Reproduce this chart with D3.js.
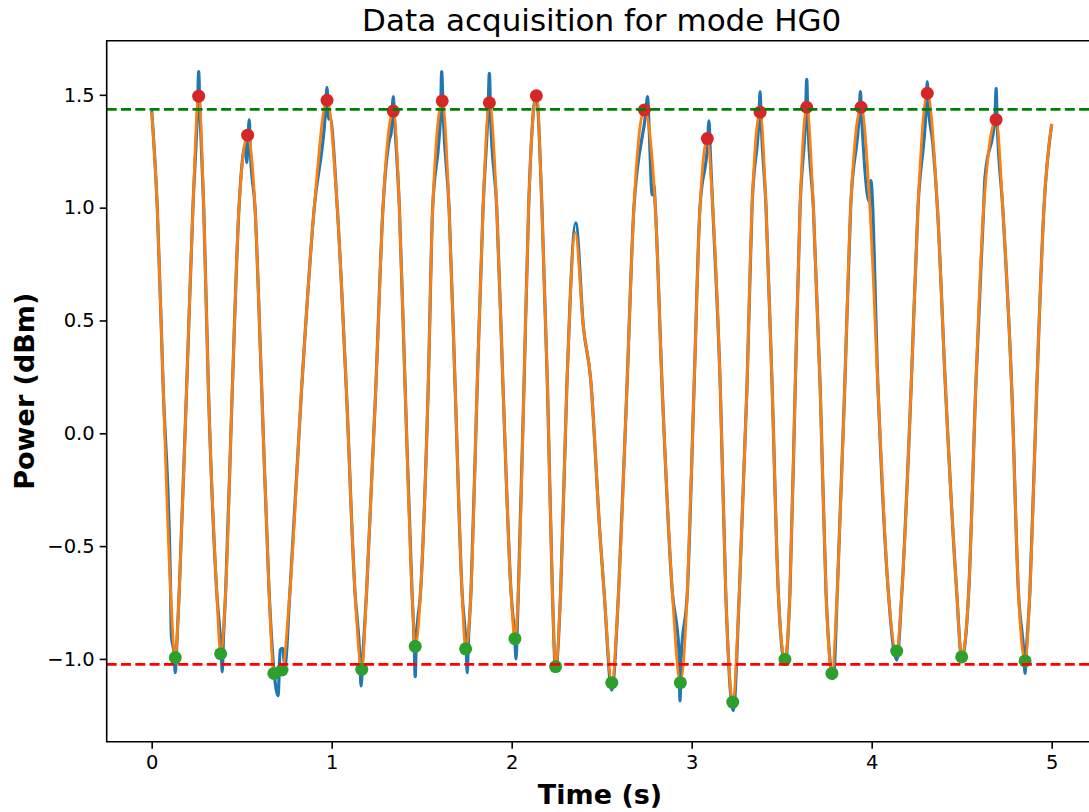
<!DOCTYPE html>
<html><head><meta charset="UTF-8">
<title>Data acquisition for mode HG0</title>
<script src="https://cdn.jsdelivr.net/npm/d3@7"></script>
<style>
  body { margin: 0; background: #fff; }
  svg { display: block; font-family: "DejaVu Sans", sans-serif; }
</style>
</head>
<body>
<div id="chart"></div>
<script>
// values
const timeTicks = [0, 1, 2, 3, 4, 5];
const powerTicks = [-1.0, -0.5, 0.0, 0.5, 1.0, 1.5];

// raw signal (blue), [time, power]
const raw = [
  [0, 1.43], [0.031, 1.0], [0.064, 0.2], [0.105, -0.7], [0.109, -0.894],
  [0.125, -0.98], [0.131, -1.061], [0.137, -0.98], [0.153, -0.7], [0.194, 0.2],
  [0.229, 1.0], [0.255, 1.45], [0.261, 1.603], [0.267, 1.45], [0.289, 1.0],
  [0.315, 0.2], [0.361, -0.7], [0.386, -0.96], [0.392, -1.057], [0.398, -0.92],
  [0.411, -0.7], [0.448, 0.2], [0.485, 1.0], [0.522, 1.28], [0.528, 1.20],
  [0.535, 1.30], [0.542, 1.389], [0.548, 1.25], [0.574, 1.0], [0.611, 0.2],
  [0.652, -0.7], [0.679, -1.05], [0.702, -1.163], [0.714, -0.96], [0.727, -0.953],
  [0.74, -1.03], [0.768, -0.7], [0.833, 0.2], [0.903, 1.0], [0.965, 1.42],
  [0.974, 1.533], [0.983, 1.392], [0.99, 1.40], [1.031, 1.0], [1.081, 0.2],
  [1.129, -0.7], [1.157, -1.0], [1.163, -1.120], [1.172, -1.0], [1.194, -0.7],
  [1.245, 0.2], [1.285, 1.0], [1.32, 1.30], [1.33, 1.33], [1.342, 1.492],
  [1.35, 1.38], [1.376, 1.0], [1.408, 0.2], [1.446, -0.7], [1.458, -0.92],
  [1.464, -1.079], [1.47, -0.92], [1.494, -0.7], [1.536, 0.2], [1.561, 1.0],
  [1.596, 1.30], [1.605, 1.42], [1.611, 1.603], [1.62, 1.40], [1.652, 1.0],
  [1.686, 0.2], [1.724, -0.7], [1.747, -0.95], [1.753, -1.061], [1.759, -0.93],
  [1.774, -0.7], [1.808, 0.2], [1.841, 1.0], [1.869, 1.44], [1.876, 1.595],
  [1.883, 1.40], [1.917, 1.0], [1.952, 0.2], [1.996, -0.7], [2.018, -0.92],
  [2.024, -1.0], [2.03, -0.88], [2.037, -0.7], [2.068, 0.2], [2.094, 1.0],
  [2.137, 1.50], [2.168, 1.0], [2.199, 0.2], [2.226, -0.7], [2.244, -1.05],
  [2.272, -0.7], [2.306, 0.2], [2.356, 0.933], [2.398, 0.474], [2.439, 0.237],
  [2.49, -0.443], [2.513, -0.7], [2.556, -1.138], [2.594, -0.7], [2.64, 0.2],
  [2.679, 1.0], [2.745, 1.42], [2.755, 1.492], [2.762, 1.38], [2.781, 1.056],
  [2.79, 1.10], [2.798, 1.0], [2.836, 0.2], [2.892, -0.7], [2.929, -0.96],
  [2.935, -1.186], [2.941, -1.0], [2.976, -0.7], [3.013, 0.2], [3.046, 1.0],
  [3.088, 1.28], [3.096, 1.385], [3.103, 1.25], [3.117, 1.0], [3.159, 0.2],
  [3.189, -0.7], [3.231, -1.229], [3.265, -0.7], [3.307, 0.2], [3.335, 1.0],
  [3.374, 1.40], [3.380, 1.514], [3.386, 1.38], [3.413, 1.0], [3.447, 0.2],
  [3.481, -0.7], [3.518, -1.02], [3.546, -0.7], [3.575, 0.2], [3.602, 1.0],
  [3.633, 1.42], [3.639, 1.569], [3.645, 1.40], [3.676, 1.0], [3.714, 0.2],
  [3.746, -0.7], [3.787, -1.086], [3.809, -0.7], [3.85, 0.2], [3.883, 1.0],
  [3.931, 1.42], [3.937, 1.514], [3.943, 1.42], [3.987, 1.026], [3.995, 1.12],
  [4.035, 0.2], [4.092, -0.7], [4.139, -1.005], [4.168, -0.7], [4.219, 0.2],
  [4.257, 1.0], [4.303, 1.45], [4.309, 1.558], [4.315, 1.45], [4.339, 1.288],
  [4.365, 1.0], [4.41, 0.2], [4.472, -0.7], [4.5, -1.0], [4.539, -0.7],
  [4.578, 0.2], [4.622, 1.0], [4.629, 1.13], [4.685, 1.40], [4.691, 1.529],
  [4.697, 1.38], [4.728, 1.0], [4.778, 0.2], [4.815, -0.7], [4.846, -0.98],
  [4.852, -1.064], [4.858, -0.98], [4.879, -0.7], [4.917, 0.2], [4.957, 1.0],
  [5.0, 1.37]
];

// filtered signal (orange)
const smooth = [
  [0, 1.425], [0.031, 1.0], [0.064, 0.2], [0.105, -0.7], [0.131, -0.994],
  [0.153, -0.7], [0.194, 0.2], [0.229, 1.0], [0.261, 1.494], [0.289, 1.0],
  [0.315, 0.2], [0.361, -0.7], [0.383, -0.977], [0.411, -0.7], [0.448, 0.2],
  [0.485, 1.0], [0.533, 1.321], [0.574, 1.0], [0.611, 0.2], [0.652, -0.7],
  [0.679, -1.064], [0.70, -1.04], [0.724, -1.049], [0.768, -0.7], [0.833, 0.2],
  [0.903, 1.0], [0.974, 1.476], [1.031, 1.0], [1.081, 0.2], [1.129, -0.7],
  [1.167, -1.046], [1.194, -0.7], [1.245, 0.2], [1.285, 1.0], [1.342, 1.428],
  [1.376, 1.0], [1.408, 0.2], [1.446, -0.7], [1.464, -0.944], [1.494, -0.7],
  [1.536, 0.2], [1.561, 1.0], [1.614, 1.473], [1.652, 1.0], [1.686, 0.2],
  [1.724, -0.7], [1.744, -0.955], [1.774, -0.7], [1.808, 0.2], [1.841, 1.0],
  [1.876, 1.465], [1.917, 1.0], [1.952, 0.2], [1.996, -0.7], [2.018, -0.910],
  [2.037, -0.7], [2.068, 0.2], [2.094, 1.0], [2.137, 1.496], [2.168, 1.0],
  [2.199, 0.2], [2.226, -0.7], [2.244, -1.034], [2.272, -0.7], [2.306, 0.2],
  [2.353, 0.889], [2.398, 0.474], [2.439, 0.237], [2.49, -0.443], [2.513, -0.7],
  [2.556, -1.105], [2.594, -0.7], [2.64, 0.2], [2.679, 1.0], [2.737, 1.433],
  [2.798, 1.0], [2.836, 0.2], [2.892, -0.7], [2.937, -1.105], [2.976, -0.7],
  [3.013, 0.2], [3.046, 1.0], [3.087, 1.306], [3.117, 1.0], [3.159, 0.2],
  [3.189, -0.7], [3.228, -1.191], [3.265, -0.7], [3.307, 0.2], [3.335, 1.0],
  [3.380, 1.423], [3.413, 1.0], [3.447, 0.2], [3.481, -0.7], [3.518, -1.002],
  [3.546, -0.7], [3.575, 0.2], [3.602, 1.0], [3.639, 1.445], [3.676, 1.0],
  [3.714, 0.2], [3.746, -0.7], [3.779, -1.064], [3.809, -0.7], [3.85, 0.2],
  [3.883, 1.0], [3.941, 1.445], [3.99, 1.0], [4.035, 0.2], [4.092, -0.7],
  [4.139, -0.965], [4.168, -0.7], [4.219, 0.2], [4.257, 1.0], [4.309, 1.507],
  [4.365, 1.0], [4.41, 0.2], [4.472, -0.7], [4.5, -0.991], [4.539, -0.7],
  [4.578, 0.2], [4.622, 1.0], [4.691, 1.390], [4.728, 1.0], [4.778, 0.2],
  [4.815, -0.7], [4.852, -1.009], [4.879, -0.7], [4.917, 0.2], [4.957, 1.0],
  [5.0, 1.372]
];

// detected maxima (red) and minima (green)
const peaks = [
  [0.261, 1.494], [0.533, 1.321], [0.974, 1.476], [1.342, 1.428], [1.614, 1.473],
  [1.876, 1.465], [2.137, 1.496], [2.737, 1.433], [3.087, 1.306], [3.380, 1.423],
  [3.639, 1.445], [3.941, 1.445], [4.309, 1.507], [4.691, 1.390]
];
const troughs = [
  [0.131, -0.994], [0.383, -0.977], [0.679, -1.064], [0.724, -1.049], [1.167, -1.046],
  [1.464, -0.944], [1.744, -0.955], [2.018, -0.910], [2.244, -1.034], [2.556, -1.105],
  [2.937, -1.105], [3.228, -1.191], [3.518, -1.002], [3.779, -1.064], [4.139, -0.965],
  [4.5, -0.991], [4.852, -1.009]
];

const W = 1089, H = 812;
const mLeft = 106.7, mRight = 1096.7, mTop = 40.7, mBottom = 741.7;

const svg = d3.select("#chart").append("svg")
  .attr("width", W).attr("height", H);

const x = d3.scaleLinear().domain([-0.25, 5.25]).range([mLeft, mRight]);
const y = d3.scaleLinear().domain([-1.3668, 1.7399]).range([mBottom, mTop]);

svg.append("clipPath").attr("id", "clip")
  .append("rect").attr("x", mLeft).attr("y", mTop)
  .attr("width", mRight - mLeft).attr("height", mBottom - mTop);

const plot = svg.append("g").attr("clip-path", "url(#clip)");

const line = d3.line().x(d => x(d[0])).y(d => y(d[1])).curve(d3.curveMonotoneX);

plot.append("path").datum(raw)
  .attr("d", line).attr("fill", "none")
  .attr("stroke", "#1f77b4").attr("stroke-width", 3.2)
  .attr("stroke-linejoin", "round");

plot.append("path").datum(smooth)
  .attr("d", line).attr("fill", "none")
  .attr("stroke", "#ff7f0e").attr("stroke-width", 2.8)
  .attr("stroke-linejoin", "round");

plot.selectAll(".peak").data(peaks).enter().append("circle")
  .attr("cx", d => x(d[0])).attr("cy", d => y(d[1])).attr("r", 6.5)
  .attr("fill", "#d62728");

plot.selectAll(".trough").data(troughs).enter().append("circle")
  .attr("cx", d => x(d[0])).attr("cy", d => y(d[1])).attr("r", 6.5)
  .attr("fill", "#2ca02c");

// mean levels
const meanMax = d3.mean(peaks, d => d[1]);
const meanMin = d3.mean(troughs, d => d[1]);

plot.append("line")
  .attr("x1", mLeft).attr("x2", mRight).attr("y1", y(meanMax)).attr("y2", y(meanMax))
  .attr("stroke", "#008000").attr("stroke-width", 2.7).attr("stroke-dasharray", "10,4.3");
plot.append("line")
  .attr("x1", mLeft).attr("x2", mRight).attr("y1", y(meanMin)).attr("y2", y(meanMin))
  .attr("stroke", "#ff0000").attr("stroke-width", 2.7).attr("stroke-dasharray", "10,4.3");

// axes
const xAxis = svg.append("g").attr("transform", `translate(0,${mBottom})`)
  .call(d3.axisBottom(x).tickValues(timeTicks).tickFormat(d3.format("d")).tickSize(7).tickPadding(6));
const yAxis = svg.append("g").attr("transform", `translate(${mLeft},0)`)
  .call(d3.axisLeft(y).tickValues(powerTicks).tickFormat(d3.format(".1f")).tickSize(7).tickPadding(5));

[xAxis, yAxis].forEach(g => {
  g.select(".domain").remove();
  g.selectAll(".tick line").attr("stroke", "#000").attr("stroke-width", 1.6);
  g.selectAll(".tick text").attr("fill", "#000")
    .style("font-size", "19.5px").style("font-family", "DejaVu Sans");
});

// spines (right one falls outside the picture)
svg.append("path")
  .attr("d", `M${mRight},${mTop}H${mLeft}V${mBottom}H${mRight}`)
  .attr("fill", "none").attr("stroke", "#000").attr("stroke-width", 1.6);

svg.append("text")
  .attr("x", (mLeft + mRight) / 2).attr("y", 31)
  .attr("text-anchor", "middle")
  .style("font-size", "31px")
  .text("Data acquisition for mode HG0");

svg.append("text")
  .attr("x", 600).attr("y", 804)
  .attr("text-anchor", "middle")
  .style("font-size", "27px").style("font-weight", "bold")
  .text("Time (s)");

svg.append("text")
  .attr("transform", `translate(34,${(mTop + mBottom) / 2}) rotate(-90)`)
  .attr("text-anchor", "middle")
  .style("font-size", "27px").style("font-weight", "bold")
  .text("Power (dBm)");
</script>
</body>
</html>
